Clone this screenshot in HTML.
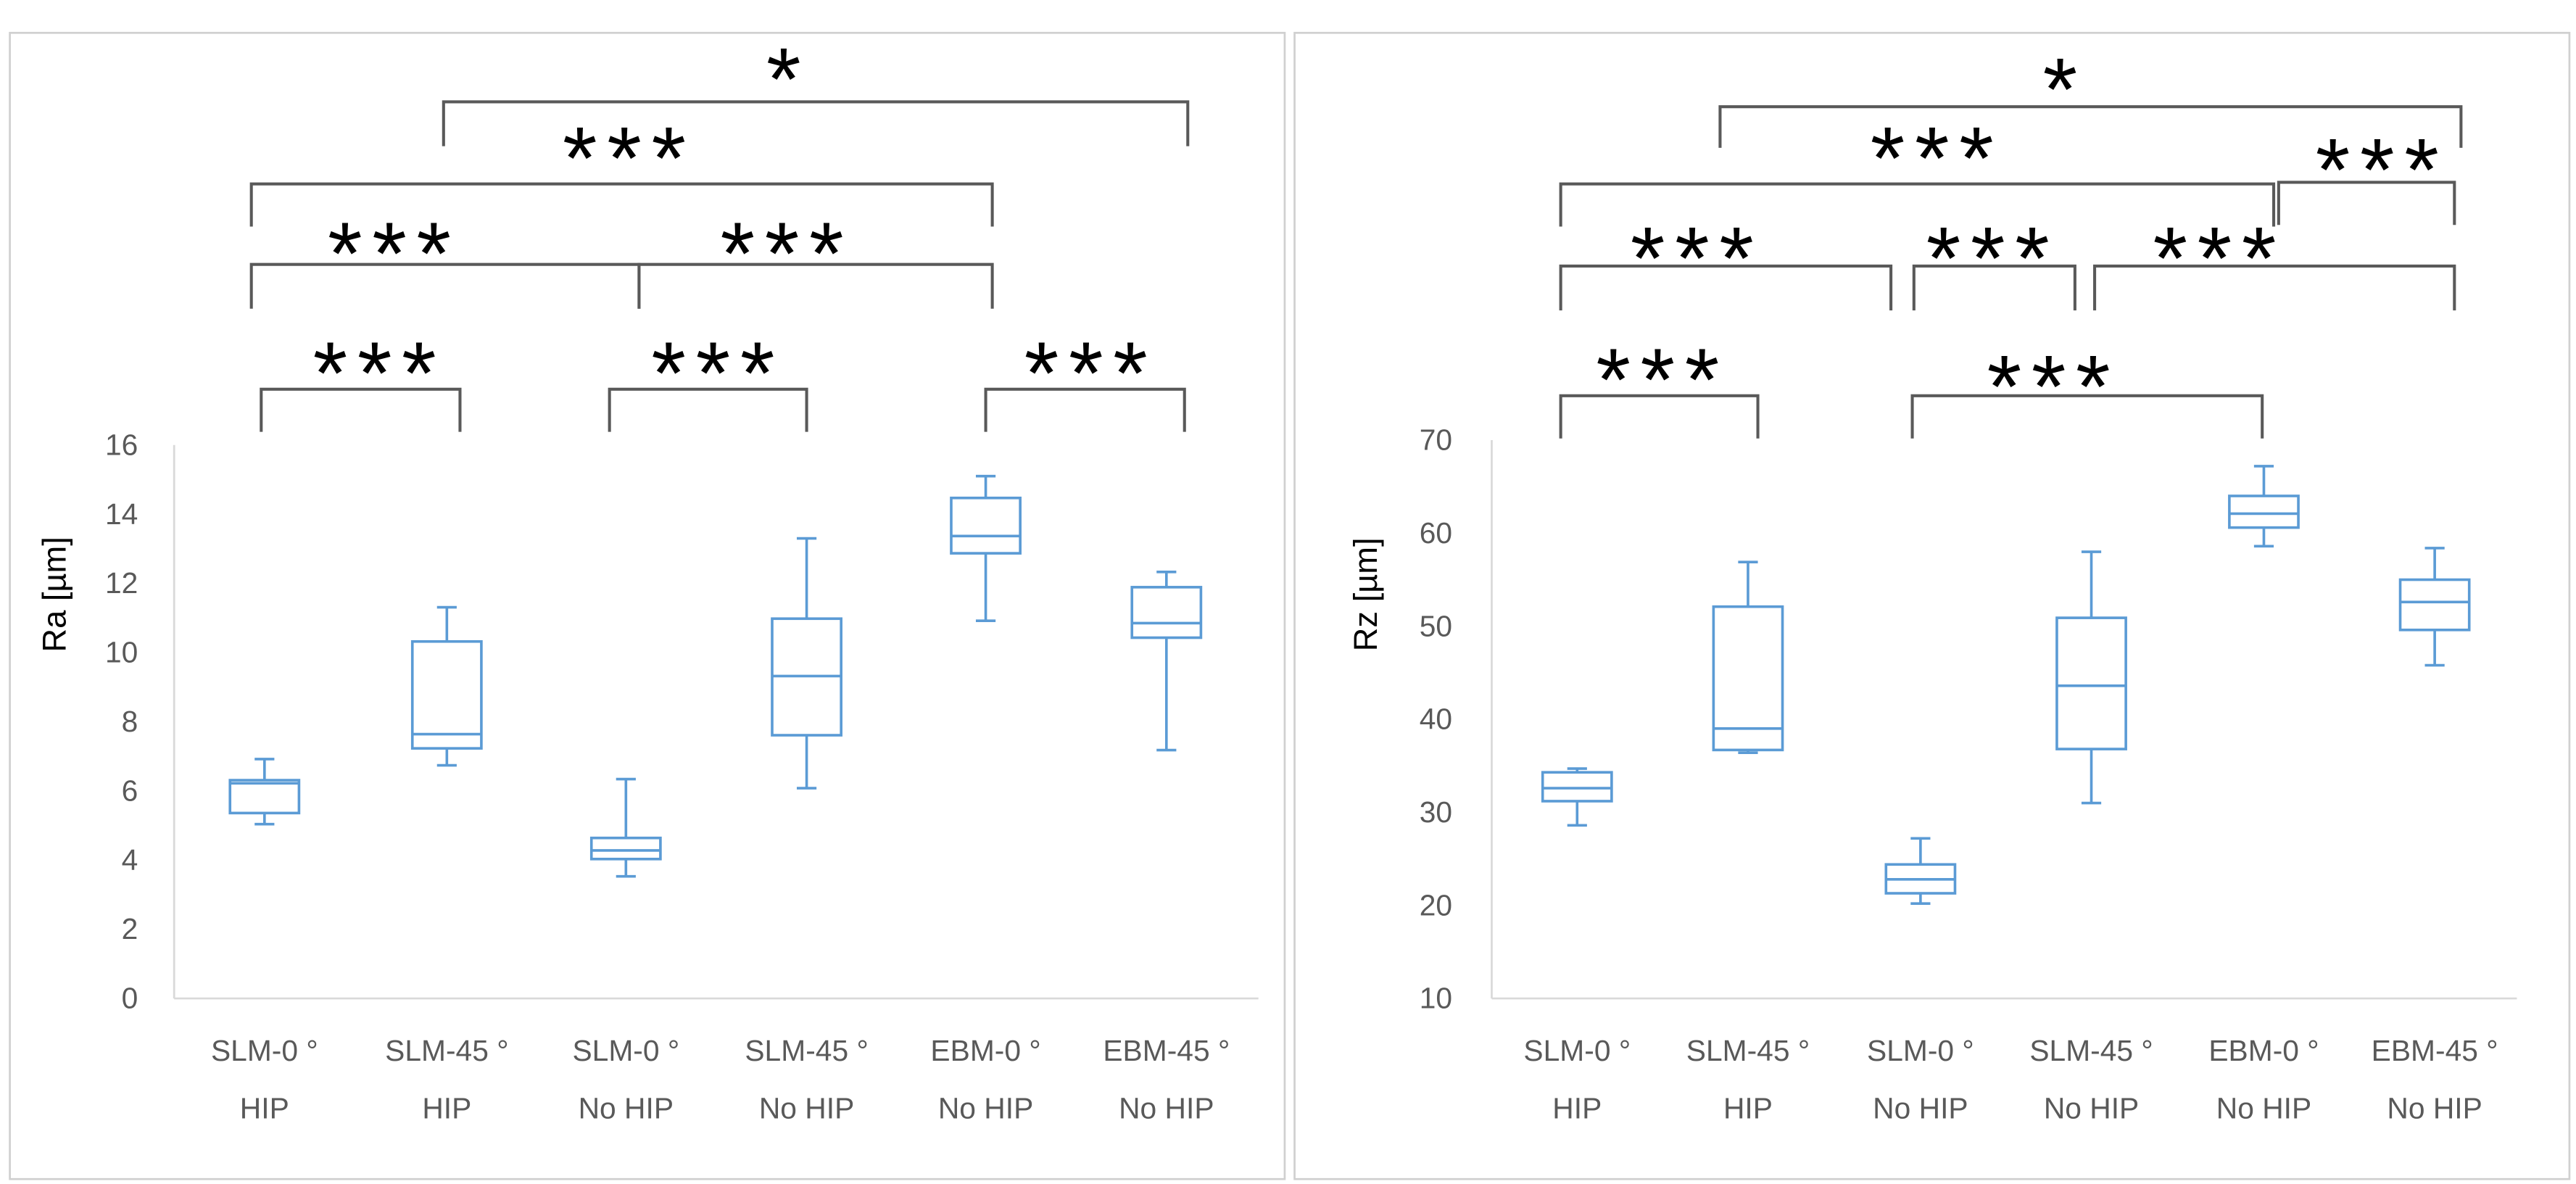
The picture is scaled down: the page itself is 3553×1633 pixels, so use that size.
<!DOCTYPE html>
<html><head><meta charset="utf-8"><style>
html,body{margin:0;padding:0;background:#fff}
svg{display:block}
text{font-family:"Liberation Sans",sans-serif}
</style></head><body>
<svg id="chart" width="3553" height="1633" viewBox="0 0 1568 721" preserveAspectRatio="none" xmlns="http://www.w3.org/2000/svg">
<rect x="6" y="20" width="776" height="698" fill="none" stroke="#d0d0d0" stroke-width="1.2"/>
<rect x="788" y="20" width="776" height="698" fill="none" stroke="#d0d0d0" stroke-width="1.2"/>
</svg>
<script>
const categoriesTop = ["SLM-0 °","SLM-45 °","SLM-0 °","SLM-45 °","EBM-0 °","EBM-45 °"];
const categoriesBottom = ["HIP","HIP","No HIP","No HIP","No HIP","No HIP"];
const raMin = [5.04, 6.74, 3.53, 6.08, 10.92, 7.18];
const raQ1 = [5.36, 7.23, 4.03, 7.61, 12.87, 10.43];
const raMed = [6.22, 7.64, 4.28, 9.32, 13.37, 10.85];
const raQ3 = [6.31, 10.32, 4.64, 10.98, 14.47, 11.89];
const raMax = [6.92, 11.31, 6.34, 13.3, 15.1, 12.33];
const rzMin = [28.6, 36.4, 20.2, 31.0, 58.6, 45.8];
const rzQ1 = [31.2, 36.7, 21.3, 36.8, 60.6, 49.6];
const rzMed = [32.6, 39.0, 22.8, 43.6, 62.1, 52.6];
const rzQ3 = [34.3, 52.1, 24.4, 50.9, 64.0, 55.0];
const rzMax = [34.7, 56.9, 27.2, 58.0, 67.2, 58.4];
const raTicks = [0,2,4,6,8,10,12,14,16];
const rzTicks = [10,20,30,40,50,60,70];

const svg = document.getElementById('chart');
const NS = 'http://www.w3.org/2000/svg';
function mk(tag, attrs, parent){const e=document.createElementNS(NS,tag);for(const k in attrs)e.setAttribute(k,attrs[k]);(parent||svg).appendChild(e);return e;}

function panel(cfg){
  const g = mk('g',{});
  
  
  const y = v => cfg.y0 + (v - cfg.vmin)/(cfg.vmax - cfg.vmin)*(cfg.y1 - cfg.y0);
  const x = i => cfg.centers[i];
  const ya = mk('line',{x1:cfg.ax,x2:cfg.ax,y1:y(cfg.vmax),y2:y(cfg.vmin),stroke:'#d9d9d9','stroke-width':1.2},g);
  
  
  const xa = mk('line',{x1:cfg.ax,x2:cfg.axEnd,y1:y(cfg.vmin),y2:y(cfg.vmin),stroke:'#d9d9d9','stroke-width':1.2},g);
  
  
  cfg.ticks.forEach(t=>{
    const tx = mk('text',{x:cfg.tickRight,y:y(t)+6,'text-anchor':'end','font-size':18,fill:'#595959'},g);
    tx.textContent = t;
    
    
  });
  const tt = mk('text',{x:0,y:0,'text-anchor':'middle','font-size':20,fill:'#000',transform:`translate(${cfg.titleX},${cfg.titleY}) rotate(-90)`},g);
  tt.textContent = cfg.title;
  
  
  categoriesTop.forEach((c,i)=>{
    const t1 = mk('text',{x:x(i),y:646,'text-anchor':'middle','font-size':18,fill:'#595959'},g);
    t1.textContent = c;
    
    
    const t2 = mk('text',{x:x(i),y:681,'text-anchor':'middle','font-size':18,fill:'#595959'},g);
    t2.textContent = categoriesBottom[i];
    
    
  });
  const col = '#5b9bd5', hw = 21, cw = 6;
  for(let i=0;i<categoriesTop.length;i++){
    const bg = mk('g',{stroke:col,'stroke-width':1.6,fill:'none'},g);
    
    
    mk('line',{x1:x(i),x2:x(i),y1:y(cfg.max[i]),y2:y(cfg.q3[i])},bg);
    mk('line',{x1:x(i),x2:x(i),y1:y(cfg.q1[i]),y2:y(cfg.min[i])},bg);
    mk('line',{x1:x(i)-cw,x2:x(i)+cw,y1:y(cfg.max[i]),y2:y(cfg.max[i])},bg);
    mk('line',{x1:x(i)-cw,x2:x(i)+cw,y1:y(cfg.min[i]),y2:y(cfg.min[i])},bg);
    mk('rect',{x:x(i)-hw,y:y(cfg.q3[i]),width:2*hw,height:y(cfg.q1[i])-y(cfg.q3[i]),fill:'#fff'},bg);
    mk('line',{x1:x(i)-hw,x2:x(i)+hw,y1:y(cfg.med[i]),y2:y(cfg.med[i])},bg);
  }
  cfg.brackets.forEach(b=>{
    const [x1,x2,by,leg,tx,tcy,label] = b;
    const bg = mk('g',{},g);
    
    
    mk('path',{d:`M${x1},${leg}V${by}H${x2}V${leg}`,fill:'none',stroke:'#595959','stroke-width':1.8},bg);
    const t = mk('text',{x:tx+3,y:tcy+27,'text-anchor':'middle','font-size':54,'letter-spacing':6,fill:'#000'},bg);
    t.textContent = label;
  });
}

panel({name:'ra-chart',vmin:0,vmax:16,y0:608,y1:271,ax:106,axEnd:766,tickRight:84,
  centers:[161,272,381,491,600,710],ticks:raTicks,title:'Ra [µm]',titleX:40,titleY:362,
  min:raMin,q1:raQ1,med:raMed,q3:raQ3,max:raMax,
  brackets:[[270,723,62,89,477,40,'*'],[153,604,112,138,380,88,'***'],
    [153,389,161,188,237,146,'***'],[389,604,161,188,476,146,'***'],
    [159,280,237,263,228,219,'***'],[371,491,237,263,434,219,'***'],[600,721,237,263,661,219,'***']]});

panel({name:'rz-chart',vmin:10,vmax:70,y0:608,y1:268,ax:908,axEnd:1532,tickRight:884,
  centers:[960,1064,1169,1273,1378,1482],ticks:rzTicks,title:'Rz [µm]',titleX:838,titleY:362,
  min:rzMin,q1:rzQ1,med:rzMed,q3:rzQ3,max:rzMax,
  brackets:[[1047,1498,65,90,1254,46,'*'],[950,1384,112,138,1176,88,'***'],[1387,1494,111,137,1447,95,'***'],
    [950,1151,162,189,1030,149,'***'],[1165,1263,162,189,1210,149,'***'],[1275,1494,162,189,1348,149,'***'],
    [950,1070,241,267,1009,223,'***'],[1164,1377,241,267,1247,227,'***']]});
</script>
</body></html>
